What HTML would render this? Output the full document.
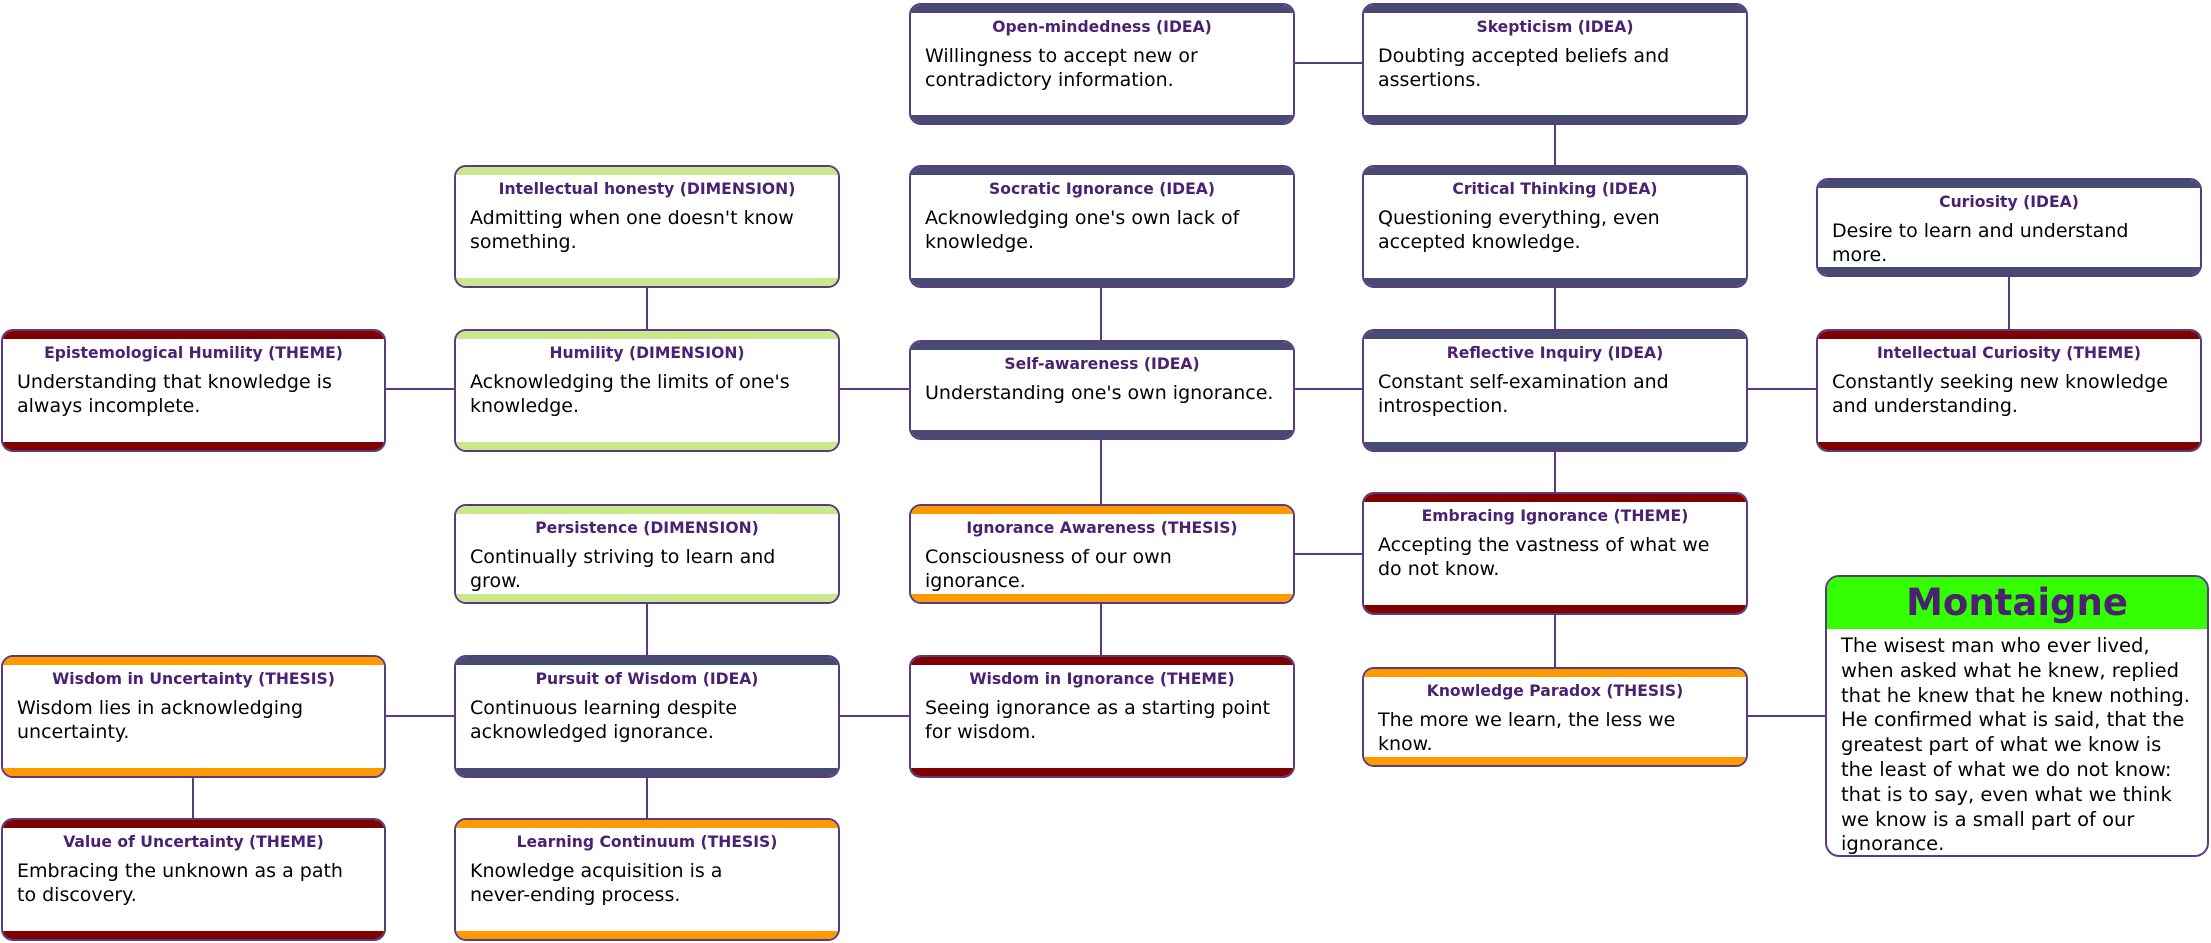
<!DOCTYPE html>
<html><head><meta charset="utf-8"><style>
body{margin:0;width:2211px;height:943px;background:#fff;position:relative;overflow:hidden;font-family:"DejaVu Sans","Liberation Sans",sans-serif}
.b{position:absolute;box-sizing:border-box;border:2px solid #5a3a80;border-radius:12px;background:#fff;overflow:hidden}
.b:before,.b:after{content:"";position:absolute;left:0;right:0;height:8px;background:var(--c)}
.b:before{top:0}.b:after{bottom:0}
.t{position:absolute;top:12px;left:0;right:0;text-align:center;color:#4b2272;font-weight:bold;font-size:15.6px;line-height:20px}
.d{position:absolute;top:39px;left:14px;font-size:19px;line-height:24px;color:#000;white-space:nowrap}
.I{--c:#474a72}.D{--c:#c9e88c}.T{--c:#800000}.S{--c:#ff9900}
svg{position:absolute;left:0;top:0}
</style></head><body>
<svg width="2211" height="943" stroke="#5a3a80" stroke-width="2" fill="none">
<line x1="1294" y1="63" x2="1362" y2="63"/>
<line x1="1555" y1="124" x2="1555" y2="667"/>
<line x1="647" y1="288" x2="647" y2="329"/>
<line x1="1101" y1="288" x2="1101" y2="655"/>
<line x1="2009" y1="276" x2="2009" y2="329"/>
<line x1="385" y1="389" x2="1816" y2="389"/>
<line x1="1294" y1="554" x2="1362" y2="554"/>
<line x1="647" y1="603" x2="647" y2="818"/>
<line x1="385" y1="716" x2="909" y2="716"/>
<line x1="1748" y1="716" x2="1825" y2="716"/>
<line x1="193" y1="777" x2="193" y2="818"/>
</svg>

<div class="b I" style="left:909px;top:3px;width:386px;height:122px"><div class="t">Open-mindedness (IDEA)</div><div class="d">Willingness to accept new or<br>contradictory information.</div></div>
<div class="b I" style="left:1362px;top:3px;width:386px;height:122px"><div class="t">Skepticism (IDEA)</div><div class="d">Doubting accepted beliefs and<br>assertions.</div></div>

<div class="b D" style="left:454px;top:165px;width:386px;height:123px"><div class="t">Intellectual honesty (DIMENSION)</div><div class="d">Admitting when one doesn't know<br>something.</div></div>
<div class="b I" style="left:909px;top:165px;width:386px;height:123px"><div class="t">Socratic Ignorance (IDEA)</div><div class="d">Acknowledging one's own lack of<br>knowledge.</div></div>
<div class="b I" style="left:1362px;top:165px;width:386px;height:123px"><div class="t">Critical Thinking (IDEA)</div><div class="d">Questioning everything, even<br>accepted knowledge.</div></div>
<div class="b I" style="left:1816px;top:178px;width:386px;height:99px"><div class="t">Curiosity (IDEA)</div><div class="d">Desire to learn and understand<br>more.</div></div>

<div class="b T" style="left:1px;top:329px;width:385px;height:123px"><div class="t">Epistemological Humility (THEME)</div><div class="d">Understanding that knowledge is<br>always incomplete.</div></div>
<div class="b D" style="left:454px;top:329px;width:386px;height:123px"><div class="t">Humility (DIMENSION)</div><div class="d">Acknowledging the limits of one's<br>knowledge.</div></div>
<div class="b I" style="left:909px;top:340px;width:386px;height:100px"><div class="t">Self-awareness (IDEA)</div><div class="d">Understanding one's own ignorance.</div></div>
<div class="b I" style="left:1362px;top:329px;width:386px;height:123px"><div class="t">Reflective Inquiry (IDEA)</div><div class="d">Constant self-examination and<br>introspection.</div></div>
<div class="b T" style="left:1816px;top:329px;width:386px;height:123px"><div class="t">Intellectual Curiosity (THEME)</div><div class="d">Constantly seeking new knowledge<br>and understanding.</div></div>

<div class="b D" style="left:454px;top:504px;width:386px;height:100px"><div class="t">Persistence (DIMENSION)</div><div class="d">Continually striving to learn and<br>grow.</div></div>
<div class="b S" style="left:909px;top:504px;width:386px;height:100px"><div class="t">Ignorance Awareness (THESIS)</div><div class="d">Consciousness of our own<br>ignorance.</div></div>
<div class="b T" style="left:1362px;top:492px;width:386px;height:123px"><div class="t">Embracing Ignorance (THEME)</div><div class="d">Accepting the vastness of what we<br>do not know.</div></div>

<div class="b S" style="left:1px;top:655px;width:385px;height:123px"><div class="t">Wisdom in Uncertainty (THESIS)</div><div class="d">Wisdom lies in acknowledging<br>uncertainty.</div></div>
<div class="b I" style="left:454px;top:655px;width:386px;height:123px"><div class="t">Pursuit of Wisdom (IDEA)</div><div class="d">Continuous learning despite<br>acknowledged ignorance.</div></div>
<div class="b T" style="left:909px;top:655px;width:386px;height:123px"><div class="t">Wisdom in Ignorance (THEME)</div><div class="d">Seeing ignorance as a starting point<br>for wisdom.</div></div>
<div class="b S" style="left:1362px;top:667px;width:386px;height:100px"><div class="t">Knowledge Paradox (THESIS)</div><div class="d">The more we learn, the less we<br>know.</div></div>

<div class="b T" style="left:1px;top:818px;width:385px;height:123px"><div class="t">Value of Uncertainty (THEME)</div><div class="d">Embracing the unknown as a path<br>to discovery.</div></div>
<div class="b S" style="left:454px;top:818px;width:386px;height:123px"><div class="t">Learning Continuum (THESIS)</div><div class="d">Knowledge acquisition is a<br>never-ending process.</div></div>

<div style="position:absolute;left:1825px;top:575px;width:384px;height:282px;box-sizing:border-box;border:2px solid #5a3a80;border-radius:14px;overflow:hidden;background:#fff">
<div style="background:#33ff00;height:52px;text-align:center;color:#4b2272;font-weight:bold;font-size:37px;line-height:52px">Montaigne</div>
<div style="position:absolute;left:14px;top:57px;font-size:19.5px;line-height:24.8px;color:#000;white-space:nowrap">The wisest man who ever lived,<br>when asked what he knew, replied<br>that he knew that he knew nothing.<br>He confirmed what is said, that the<br>greatest part of what we know is<br>the least of what we do not know:<br>that is to say, even what we think<br>we know is a small part of our<br>ignorance.</div>
</div>
</body></html>
